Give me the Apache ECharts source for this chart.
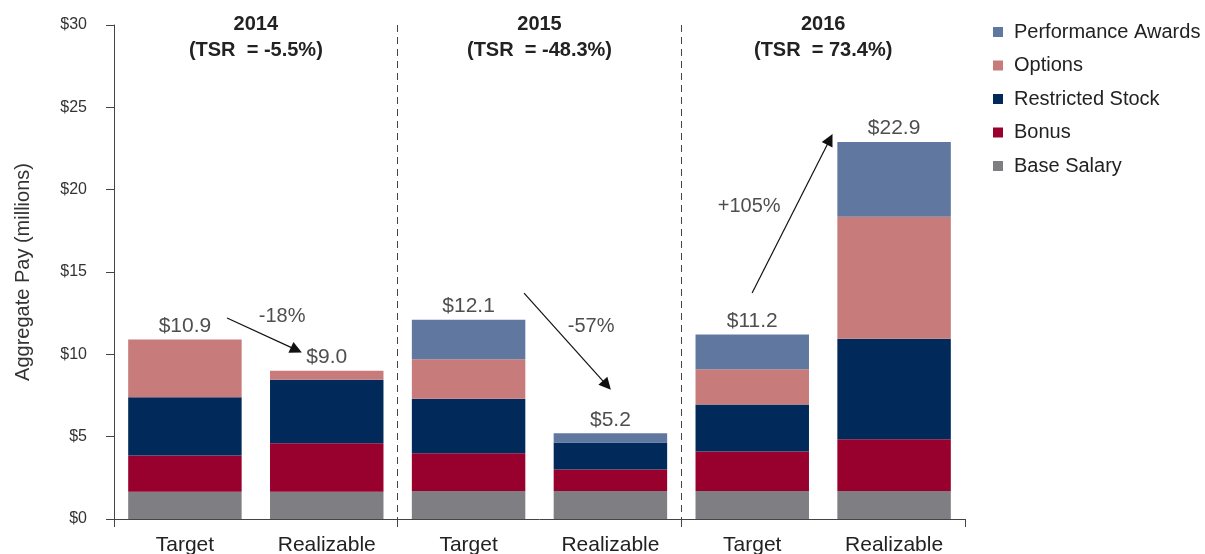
<!DOCTYPE html>
<html>
<head>
    <meta charset="utf-8">
    <title>Target vs Realizable Pay</title>
    <script src="https://cdn.jsdelivr.net/npm/echarts@6/dist/echarts.min.js"></script>
    <style>
        html, body { margin: 0; padding: 0; background: #fff; }
        #main { width: 1205px; height: 554px; }
    </style>
</head>
<body>
<div id="main"></div>
<script type="text/javascript">

    // categories / groups
    var categories = ['Target', 'Realizable', 'Target', 'Realizable', 'Target', 'Realizable'];
    var years = ['2014\n(TSR  = -5.5%)', '2015\n(TSR  = -48.3%)', '2016\n(TSR  = 73.4%)'];

    // pay components, $ millions (bottom to top)
    var baseSalary        = [1.65, 1.65, 1.7, 1.7, 1.7, 1.7];
    var bonus             = [2.2, 2.95, 2.3, 1.3, 2.4, 3.15];
    var restrictedStock   = [3.55, 3.85, 3.3, 1.65, 2.85, 6.1];
    var stockOptions      = [3.5, 0.55, 2.4, 0, 2.15, 7.4];
    var performanceAwards = [0, 0, 2.4, 0.55, 2.1, 4.55];

    // change arrows (x in bar slots, y in $M) and their labels
    var arrowPaths = [
        [[0.797, 12.21], [1.286, 10.27]],
        [[2.891, 13.72], [3.475, 8.12]],
        [[4.499, 13.72], [5.047, 23.05]]
    ];
    var changeLabels = ['-18%', '-57%', '+105%'];
    var changeLabelPos = [[1.185, 12.3], [3.364, 11.7], [4.478, 19.0]];

    var totals = categories.map(function (c, i) {
        return +(baseSalary[i] + bonus[i] + restrictedStock[i] + stockOptions[i] + performanceAwards[i]).toFixed(1);
    });

    var txt = '#222';
    var axisCol = '#444';
    var font = 'Liberation Sans, Arial, sans-serif';

    function barSeries(name, data, color) {
        return {
            name: name,
            type: 'bar',
            stack: 'pay',
            barWidth: '80%',
            data: data,
            itemStyle: { color: color },
            silent: true
        };
    }

    var myChart = echarts.init(document.getElementById('main'));

    var option = {
        animation: false,
        textStyle: { fontFamily: font },
        grid: { left: 114, right: 240, top: 25, bottom: 35, outerBoundsMode: 'none' },
        legend: {
            orient: 'vertical',
            left: 988,
            top: 17,
            itemWidth: 10,
            itemHeight: 10,
            itemGap: 13.5,
            icon: 'rect',
            textStyle: { fontSize: 20, color: txt, fontFamily: font, padding: [0, 0, 0, 6] },
            data: ['Performance Awards', 'Options', 'Restricted Stock', 'Bonus', 'Base Salary']
        },
        xAxis: [
            {
                type: 'category',
                data: categories,
                position: 'bottom',
                axisLine: { lineStyle: { color: axisCol, width: 1 } },
                axisTick: { show: true, length: 8, interval: 1, lineStyle: { color: axisCol } },
                axisLabel: { fontSize: 21, color: txt, margin: 16, fontFamily: font }
            },
            {
                type: 'category',
                data: years,
                position: 'top',
                axisLine: { show: false },
                axisTick: { show: false },
                axisLabel: {
                    fontSize: 20, fontWeight: 'bold', color: txt,
                    lineHeight: 26, verticalAlign: 'top', margin: 14, fontFamily: font
                },
                splitLine: {
                    show: true, interval: 0, showMinLine: false, showMaxLine: false,
                    lineStyle: { color: axisCol, type: [7, 5], width: 1 }
                }
            },
            { type: 'value', min: 0, max: 6, show: false }
        ],
        yAxis: {
            type: 'value',
            min: 0,
            max: 30,
            interval: 5,
            name: 'Aggregate Pay (millions)',
            nameLocation: 'middle',
            nameGap: 81,
            nameTextStyle: { fontSize: 20, color: '#333', fontFamily: font },
            axisLine: { show: true, lineStyle: { color: axisCol, width: 1 } },
            axisTick: { show: true, length: 8, lineStyle: { color: axisCol } },
            axisLabel: { formatter: function (v) { return '$' + v; }, fontSize: 16, color: '#333', margin: 27, fontFamily: font },
            splitLine: { show: false }
        },
        series: [
            barSeries('Base Salary', baseSalary, '#7f7e83'),
            barSeries('Bonus', bonus, '#98002e'),
            barSeries('Restricted Stock', restrictedStock, '#012a5b'),
            barSeries('Options', stockOptions, '#c77b7a'),
            barSeries('Performance Awards', performanceAwards, '#6078a0'),
            {
                name: 'total',
                type: 'scatter',
                data: totals,
                symbolSize: 0,
                silent: true,
                label: {
                    show: true, position: 'top', distance: 3,
                    fontSize: 21, color: txt, fontFamily: font,
                    formatter: function (p) { return '$' + p.value.toFixed(1); }
                }
            },
            {
                name: 'change',
                type: 'lines',
                coordinateSystem: 'cartesian2d',
                xAxisIndex: 2,
                yAxisIndex: 0,
                symbol: ['none', 'triangle'],
                symbolSize: 12,
                silent: true,
                lineStyle: { color: '#111', width: 1.2, opacity: 1 },
                data: arrowPaths.map(function (a) { return { coords: a }; })
            },
            {
                name: 'changeLabel',
                type: 'scatter',
                xAxisIndex: 2,
                yAxisIndex: 0,
                symbolSize: 0,
                silent: true,
                data: changeLabelPos,
                label: {
                    show: true, position: 'inside',
                    fontSize: 20, color: txt, fontFamily: font,
                    formatter: function (p) { return changeLabels[p.dataIndex]; }
                }
            }
        ]
    };

    myChart.setOption(option);

</script>
</body>
</html>
